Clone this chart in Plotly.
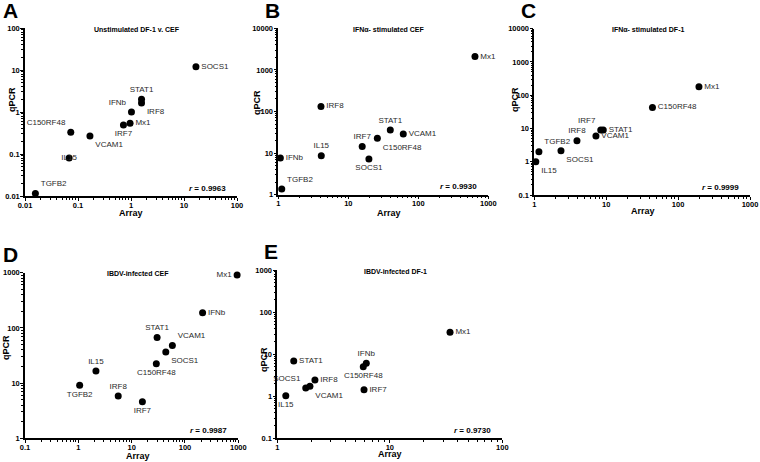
import plotly.graph_objects as go

# ---------------- data ----------------
genes_A = ["SOCS1", "STAT1", "IRF8", "IFNb", "Mx1", "IRF7", "C150RF48", "VCAM1", "IL15", "TGFB2"]
array_A = [16.8, 1.58, 1.58, 1.02, 0.96, 0.72, 0.073, 0.168, 0.068, 0.0157]
qpcr_A = [12.0, 2.0, 1.64, 1.0, 0.54, 0.49, 0.33, 0.27, 0.08, 0.0115]

genes_B = ["Mx1", "IRF8", "STAT1", "VCAM1", "C150RF48", "IRF7", "SOCS1", "IL15", "IFNb", "TGFB2"]
array_B = [645, 4.07, 39.8, 61, 26, 15.8, 19.7, 4.11, 1.07, 1.12]
qpcr_B = [2090, 132, 36, 28.6, 22.9, 14.5, 7.2, 8.6, 7.6, 1.37]

genes_C = ["Mx1", "C150RF48", "STAT1", "IRF7", "VCAM1", "IRF8", "SOCS1", "TGFB2", "IL15"]
array_C = [195, 44, 9.1, 8.4, 7.2, 3.92, 2.35, 1.16, 1.05]
qpcr_C = [181, 43, 9.0, 9.0, 5.9, 4.27, 2.15, 2.0, 1.0]

genes_D = ["Mx1", "IFNb", "STAT1", "VCAM1", "SOCS1", "C150RF48", "IL15", "TGFB2", "IRF8", "IRF7"]
array_D = [950, 214, 30, 58, 43.7, 29, 2.14, 1.06, 5.6, 15.9]
qpcr_D = [908, 189, 67, 48, 36.6, 22.5, 16.6, 9.1, 5.85, 4.6]

genes_E = ["Mx1", "IFNb", "C150RF48", "IRF7", "STAT1", "IRF8", "SOCS1", "VCAM1", "IL15"]
array_E = [34.3, 6.18, 5.81, 5.9, 1.4, 2.16, 1.79, 1.95, 1.19]
qpcr_E = [33, 6.04, 5.03, 1.43, 6.87, 2.43, 1.57, 1.72, 1.03]

titles = ["Unstimulated DF-1 v. CEF", "IFN\u03b1- stimulated CEF", "IFN\u03b1- stimulated DF-1",
          "IBDV-infected CEF", "IBDV-infected DF-1"]
letters = ["A", "B", "C", "D", "E"]
r_values = ["0.9963", "0.9930", "0.9999", "0.9987", "0.9730"]
tick_vals = [0.01, 0.1, 1, 10, 100, 1000, 10000]
tick_text = ["0.01", "0.1", "1", "10", "100", "1000", "10000"]
minor_vals = [m * 10.0 ** e for e in range(-2, 4) for m in range(2, 10)]

# ---------------- layout / style ----------------
W, H = 760, 462
pos_A = ["middle right", "top center", "bottom right", "top left", "middle right", "bottom center",
         "top left", "bottom right", "middle center", "top right"]
pos_B = ["middle right", "middle right", "top center", "middle right", "bottom right", "top center",
         "bottom center", "top center", "middle right", "top right"]
pos_C = ["middle right", "middle right", "middle right", "top left", "middle right", "top center",
         "bottom right", "top right", "bottom right"]
pos_D = ["middle left", "middle right", "top center", "top right", "bottom right", "bottom center",
         "top center", "bottom center", "top center", "bottom center"]
pos_E = ["middle right", "top center", "bottom center", "middle right", "middle right", "middle right",
         "top left", "bottom right", "bottom center"]

# pixel boxes (x0, x1, ytop, ybottom), log ranges, axis-title pixel positions
panels = [
    (genes_A, array_A, qpcr_A, pos_A, (25, 237, 28, 196), (-2, 2), (-2, 2), (131, 213), (12, 100)),
    (genes_B, array_B, qpcr_B, pos_B, (278.3, 488.3, 28.3, 194.7), (0, 3), (0, 4), (389, 213), (257, 103)),
    (genes_C, array_C, qpcr_C, pos_C, (534.3, 750, 28.7, 195), (0, 3), (-1, 4), (643, 211), (515, 100)),
    (genes_D, array_D, qpcr_D, pos_D, (25, 238.3, 272.7, 438.3), (-1, 3), (0, 3), (138, 456), (6, 348)),
    (genes_E, array_E, qpcr_E, pos_E, (277.3, 502.3, 270, 438.3), (0, 2), (-1, 3), (390, 454), (264, 360)),
]

FONT = "Liberation Sans, Arial, sans-serif"
fig = go.Figure()
layout = {}
annotations = []


def ann(text, px, py, size, xanchor="center", angle=0):
    return dict(text=text, x=px / W, y=1 - py / H, xref="paper", yref="paper", showarrow=False,
                xanchor=xanchor, yanchor="middle", textangle=angle,
                font=dict(family=FONT, size=size, color="black"))


for i, (g, ax, qy, pos, box, xr, yr, xt, yt_) in enumerate(panels):
    n = "" if i == 0 else str(i + 1)
    x0, x1, yt, yb = box
    fig.add_trace(go.Scatter(
        x=ax, y=qy, text=g, mode="markers+text", textposition=pos,
        marker=dict(color="black", size=7),
        textfont=dict(family=FONT, size=8, color="#2a2a2a"),
        xaxis="x" + n, yaxis="y" + n, showlegend=False, cliponaxis=False,
        hoverinfo="x+y+text"))
    common = dict(type="log", showgrid=False, zeroline=False, showline=True, linecolor="black",
                  linewidth=1.5, ticks="outside", ticklen=3, tickwidth=1.2, tickcolor="black",
                  tickmode="array", tickvals=tick_vals, ticktext=tick_text, automargin=False,
                  tickfont=dict(family=FONT, size=7.5, color="black", weight="bold"),
                  minor=dict(ticks="outside", ticklen=2, tickwidth=0.8, tickcolor="black",
                             showgrid=False, tickmode="array", tickvals=minor_vals))
    layout["xaxis" + n] = dict(common, domain=[x0 / W, x1 / W], range=list(xr), anchor="y" + n,
                               ticklabelstandoff=-2)
    layout["yaxis" + n] = dict(common, domain=[1 - yb / H, 1 - yt / H], range=list(yr), anchor="x" + n,
                               ticklabelstandoff=-1)
    annotations.append(ann("<b>Array</b>", xt[0], xt[1], 9))
    annotations.append(ann("<b>qPCR</b>", yt_[0], yt_[1], 9, angle=-90))
    annotations.append(ann("<b>" + titles[i] + "</b>", (x0 + x1) / 2 + 6, yt + 1, 7))
    annotations.append(ann("<b><i>r</i> = " + r_values[i] + "</b>", x1 - 9, yb - 8, 8, xanchor="right"))
    lx = 1 if i in (0, 3) else x0 - 15
    annotations.append(ann("<b>" + letters[i] + "</b>", lx, yt - 18, 21, xanchor="left"))

fig.update_layout(width=W, height=H, margin=dict(l=0, r=0, t=0, b=0),
                  plot_bgcolor="white", paper_bgcolor="white", annotations=annotations,
                  **layout)
fig.write_html("out.html", config={"displayModeBar": False},
               post_script="document.body.style.margin='0';document.body.style.overflow='hidden';")
